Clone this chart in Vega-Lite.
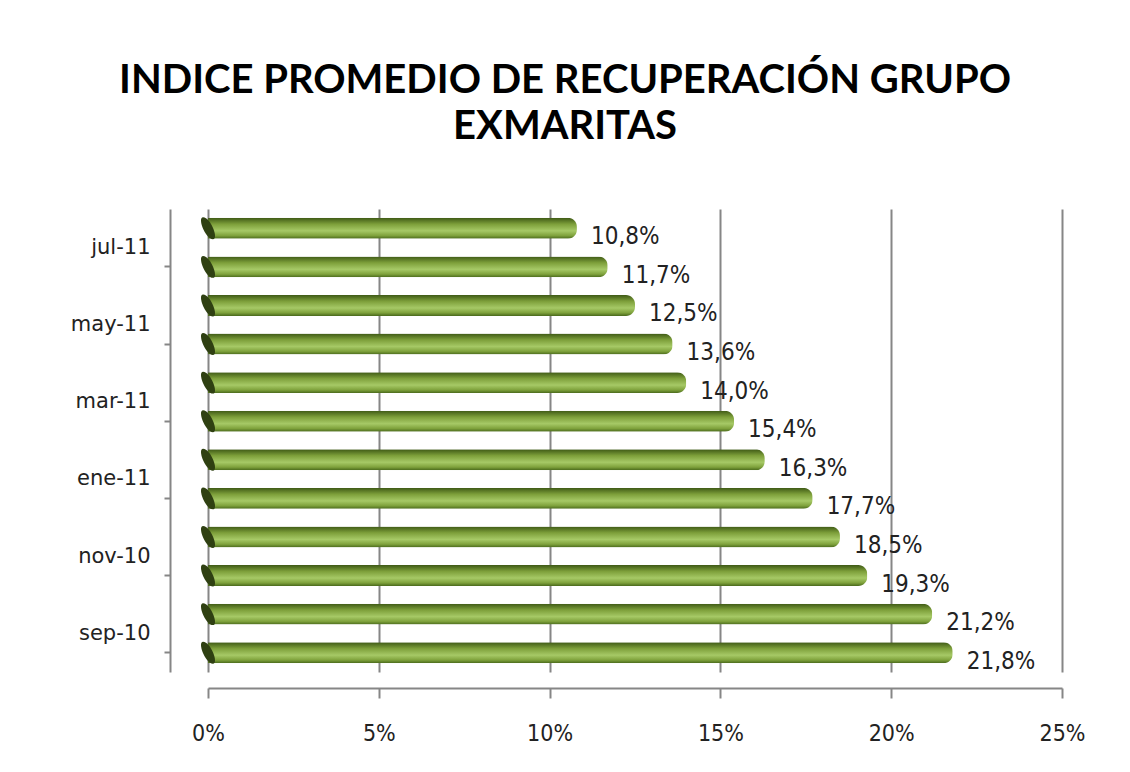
{
  "$schema": "https://vega.github.io/schema/vega-lite/v6.json",
  "width": 854,
  "height": 463,
  "autosize": {"type": "none"},
  "padding": {"left": 208, "top": 209, "right": 68, "bottom": 100},
  "background": "white",
  "config": {
    "locale": {"number": {"decimal": ",", "thousands": ".", "grouping": [3], "currency": ["", " €"]}},
    "view": {"stroke": null},
    "font": "Lato"
  },
  "title": {
    "text": ["INDICE PROMEDIO DE RECUPERACIÓN GRUPO", "EXMARITAS"],
    "font": "Lato",
    "fontSize": 40,
    "fontWeight": "bold",
    "color": "#000000",
    "lineHeight": 46,
    "anchor": "middle",
    "frame": "group",
    "dx": -70,
    "offset": 62
  },
  "data": {
    "values": [
      {"mes": "sep-10", "indice": 0.218},
      {"mes": "oct-10", "indice": 0.212},
      {"mes": "nov-10", "indice": 0.193},
      {"mes": "dic-10", "indice": 0.185},
      {"mes": "ene-11", "indice": 0.177},
      {"mes": "feb-11", "indice": 0.163},
      {"mes": "mar-11", "indice": 0.154},
      {"mes": "abr-11", "indice": 0.140},
      {"mes": "may-11", "indice": 0.136},
      {"mes": "jun-11", "indice": 0.125},
      {"mes": "jul-11", "indice": 0.117},
      {"mes": "ago-11", "indice": 0.108}
    ]
  },
  "encoding": {
    "y": {
      "field": "mes",
      "type": "nominal",
      "sort": ["ago-11", "jul-11", "jun-11", "may-11", "abr-11", "mar-11", "feb-11", "ene-11", "dic-10", "nov-10", "oct-10", "sep-10"],
      "scale": {"paddingInner": 0.46, "paddingOuter": 0.23},
      "axis": {
        "title": null,
        "values": ["sep-10", "nov-10", "ene-11", "mar-11", "may-11", "jul-11"],
        "offset": 38,
        "domainColor": "#868686",
        "domainWidth": 2,
        "tickColor": "#868686",
        "tickWidth": 2,
        "tickSize": 6,
        "labelPadding": 14,
        "labelOffset": -19,
        "labelFont": "DejaVu Sans",
        "labelFontSize": 21,
        "labelColor": "#222222",
        "grid": false
      }
    },
    "x": {
      "field": "indice",
      "type": "quantitative",
      "scale": {"domain": [0, 0.25], "nice": false, "zero": true},
      "axis": {
        "title": null,
        "format": ".0%",
        "values": [0, 0.05, 0.1, 0.15, 0.2, 0.25],
        "offset": 16,
        "domainColor": "#868686",
        "domainWidth": 2,
        "tickColor": "#868686",
        "tickWidth": 2,
        "tickSize": 10,
        "labelPadding": 24,
        "labelFlush": false,
        "labelFont": "DejaVu Sans Condensed",
        "labelFontSize": 23,
        "labelColor": "#222222",
        "grid": true,
        "gridColor": "#868686",
        "gridWidth": 2
      }
    }
  },
  "layer": [
    {
      "mark": {
        "type": "bar",
        "cornerRadiusEnd": 9,
        "color": {
          "gradient": "linear",
          "x1": 0, "y1": 0, "x2": 0, "y2": 1,
          "stops": [
            {"offset": 0, "color": "#3f5a16"},
            {"offset": 0.3, "color": "#7d9f3a"},
            {"offset": 0.62, "color": "#a6c966"},
            {"offset": 0.85, "color": "#7fa23c"},
            {"offset": 1, "color": "#4a6a1c"}
          ]
        }
      }
    },
    {
      "mark": {
        "type": "point",
        "filled": true,
        "color": "#2f4012",
        "opacity": 1,
        "size": 480,
        "shape": "M-0.45,-1 C0.25,-1 1,1 0.45,1 C-0.25,1 -1,-1 -0.45,-1 Z"
      },
      "encoding": {
        "x": {"datum": 0, "type": "quantitative"}
      }
    },
    {
      "mark": {"type": "text", "align": "left", "baseline": "middle", "dx": 14, "dy": 9, "font": "DejaVu Sans Condensed", "fontSize": 24, "color": "#222222"},
      "encoding": {
        "text": {"field": "indice", "type": "quantitative", "format": ".1%"}
      }
    }
  ]
}
